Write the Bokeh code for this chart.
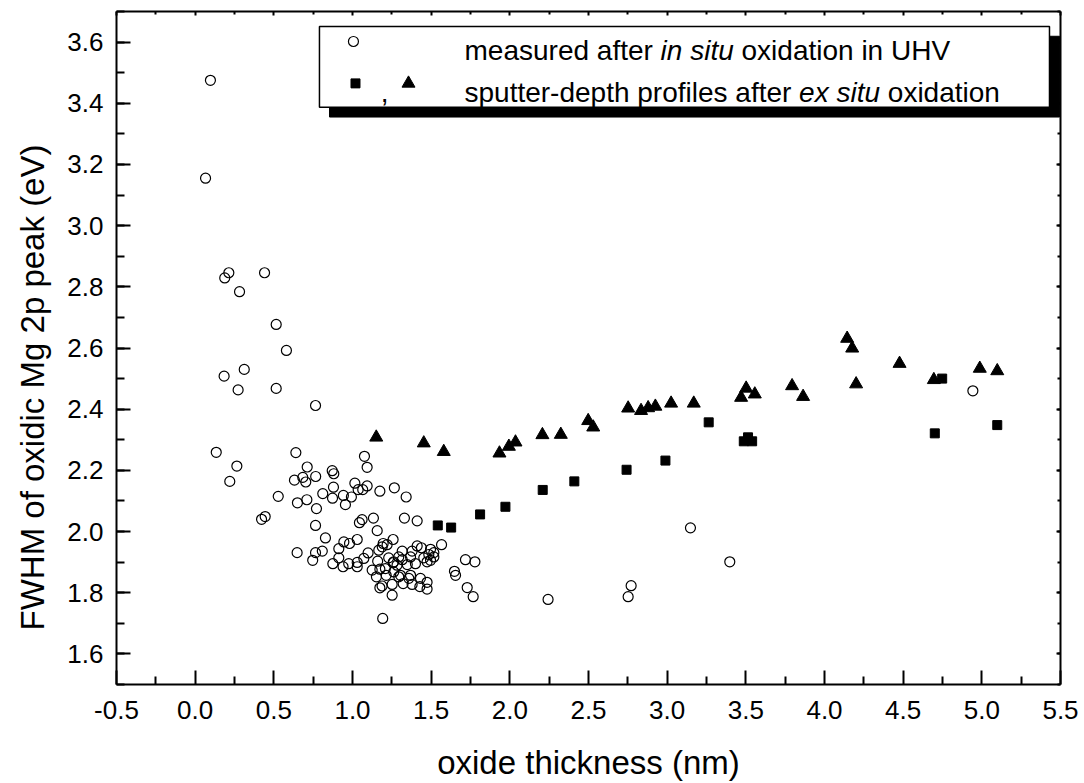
from bokeh.plotting import figure
from bokeh.models import (LinearAxis, FixedTicker, Range1d, ColumnDataSource, Title,
                          PrintfTickFormatter, CustomJSTickFormatter)
from bokeh.core.properties import value
from bokeh.embed import file_html
from bokeh.resources import INLINE

# ---------------- data ----------------
insitu_x = [0.097, 0.066, 0.214, 0.188, 0.441, 0.282, 0.515, 0.580, 0.312, 0.184,
            0.273, 0.515, 0.134, 0.640, 0.265, 0.220, 0.765, 1.076, 1.093, 0.712,
            0.631, 0.684, 0.703, 0.766, 0.871, 0.881, 1.015, 1.093, 1.036, 1.065,
            1.174, 1.266, 0.879, 0.811, 0.873, 0.942, 0.993, 0.955, 0.528, 0.650,
            0.710, 0.771, 0.422, 0.445, 0.765, 1.061, 1.044, 1.133, 1.157, 0.828,
            0.648, 0.765, 0.808, 0.747, 0.945, 0.981, 1.030, 0.913, 0.913, 0.875,
            0.940, 0.976, 1.030, 1.030, 1.072, 1.099, 1.167, 1.195, 1.220, 1.258,
            1.160, 1.125, 1.174, 1.230, 1.262, 1.152, 1.214, 1.252, 1.174, 1.188,
            1.252, 1.192, 1.341, 1.330, 1.411, 1.189, 1.316, 1.379, 1.411, 1.438,
            1.496, 1.517, 1.566, 1.485, 1.453, 1.369, 1.294, 1.258, 1.316, 1.348,
            1.400, 1.474, 1.496, 1.517, 1.283, 1.262, 1.305, 1.369, 1.432, 1.474,
            1.474, 1.428, 1.379, 1.322, 1.358, 1.294, 1.209, 1.718, 1.778, 1.648,
            1.655, 1.729, 1.767, 2.243, 2.771, 2.752, 3.148, 3.398, 4.943]
insitu_y = [3.475, 3.155, 2.846, 2.829, 2.846, 2.784, 2.677, 2.592, 2.530, 2.508,
            2.463, 2.468, 2.259, 2.258, 2.214, 2.164, 2.412, 2.246, 2.210, 2.211,
            2.168, 2.177, 2.162, 2.180, 2.199, 2.189, 2.158, 2.149, 2.137, 2.137,
            2.132, 2.143, 2.145, 2.124, 2.109, 2.118, 2.113, 2.088, 2.115, 2.094,
            2.104, 2.075, 2.040, 2.049, 2.020, 2.039, 2.029, 2.044, 2.003, 1.979,
            1.931, 1.931, 1.936, 1.906, 1.966, 1.961, 1.974, 1.944, 1.914, 1.895,
            1.885, 1.895, 1.885, 1.899, 1.912, 1.930, 1.939, 1.961, 1.957, 1.974,
            1.903, 1.874, 1.877, 1.914, 1.901, 1.852, 1.857, 1.827, 1.816, 1.822,
            1.792, 1.716, 2.113, 2.044, 2.035, 1.950, 1.936, 1.936, 1.953, 1.947,
            1.942, 1.931, 1.957, 1.925, 1.914, 1.917, 1.917, 1.898, 1.908, 1.892,
            1.895, 1.901, 1.906, 1.917, 1.890, 1.868, 1.857, 1.857, 1.847, 1.834,
            1.812, 1.820, 1.827, 1.830, 1.847, 1.852, 1.879, 1.908, 1.901, 1.870,
            1.857, 1.817, 1.787, 1.778, 1.823, 1.787, 2.012, 1.901, 2.460]

square_x = [1.542, 1.627, 1.811, 1.972, 2.209, 2.410, 2.742, 2.989, 3.264, 3.487,
            3.514, 3.540, 4.701, 4.748, 5.098]
square_y = [2.020, 2.013, 2.056, 2.081, 2.136, 2.164, 2.202, 2.232, 2.357, 2.295,
            2.308, 2.295, 2.321, 2.500, 2.348]

triangle_x = [1.151, 1.453, 1.580, 1.934, 1.994, 2.036, 2.207, 2.324, 2.498, 2.530,
              2.752, 2.834, 2.879, 2.925, 3.025, 3.169, 3.470, 3.502, 3.557, 3.794,
              3.864, 4.144, 4.176, 4.201, 4.477, 4.695, 4.987, 5.098]
triangle_y = [2.308, 2.289, 2.261, 2.256, 2.278, 2.292, 2.316, 2.317, 2.362, 2.341,
              2.403, 2.395, 2.404, 2.409, 2.419, 2.419, 2.438, 2.468, 2.449, 2.476,
              2.441, 2.631, 2.599, 2.482, 2.549, 2.496, 2.533, 2.525]

x_ticks = [-0.5, 0.0, 0.5, 1.0, 1.5, 2.0, 2.5, 3.0, 3.5, 4.0, 4.5, 5.0, 5.5]
y_ticks = [1.6, 1.8, 2.0, 2.2, 2.4, 2.6, 2.8, 3.0, 3.2, 3.4, 3.6]
x_title = "oxide thickness (nm)"
y_title = "FWHM of oxidic Mg 2p peak (eV)"
legend_row1 = ["measured after", "in situ", "oxidation in UHV"]
legend_row2 = ["sputter-depth profiles after", "ex situ", "oxidation"]

FONT = "Liberation Sans"
LEG_SIZE = "28px"

x_minor = [t + 0.25 for t in x_ticks[:-1]]
y_minor = [round(1.5 + 0.1 * i, 2) for i in range(23)]

p = figure(width=1084, height=783, x_range=Range1d(-0.5, 5.5), y_range=Range1d(1.5, 3.7),
           output_backend="svg", toolbar_location=None,
           min_border_left=116, min_border_right=24, min_border_top=11, min_border_bottom=97)
p.outline_line_color = None
p.grid.visible = False
p.background_fill_color = "white"
p.border_fill_color = "white"

def style_axis(ax, ticks, minor, labels=True, tick_in=14, minor_in=8):
    ax.ticker = FixedTicker(ticks=ticks, minor_ticks=minor)
    ax.axis_line_width = 2
    ax.axis_line_color = "black"
    ax.major_tick_in = tick_in
    ax.major_tick_out = 0
    ax.minor_tick_in = minor_in
    ax.minor_tick_out = 0
    ax.major_tick_line_width = 2
    ax.minor_tick_line_width = 2
    ax.major_tick_line_color = "black"
    ax.minor_tick_line_color = "black"
    if labels:
        ax.formatter = PrintfTickFormatter(format="%.1f")
        ax.major_label_text_font = FONT
        ax.major_label_text_font_size = "26px"
        ax.major_label_text_color = "black"
    else:
        ax.formatter = CustomJSTickFormatter(code="return ''")
        ax.major_label_standoff = 0

style_axis(p.xaxis[0], x_ticks, x_minor)
style_axis(p.yaxis[0], y_ticks, y_minor)
p.xaxis[0].major_label_standoff = 16
p.yaxis[0].major_label_standoff = 13
p.xaxis[0].axis_label = x_title
p.xaxis[0].axis_label_text_font = FONT
p.xaxis[0].axis_label_text_font_size = "33px"
p.xaxis[0].axis_label_text_font_style = "normal"
p.xaxis[0].axis_label_text_color = "black"
p.xaxis[0].axis_label_standoff = 22

top_ax = LinearAxis()
style_axis(top_ax, x_ticks, x_minor, labels=False, tick_in=4, minor_in=3)
p.add_layout(top_ax, "above")
right_ax = LinearAxis()
style_axis(right_ax, y_ticks, y_minor, labels=False, tick_in=4, minor_in=3)
p.add_layout(right_ax, "right")

# y-axis title: placed, as in the reference, a little below the frame centre
p.add_layout(Title(text=y_title, align="left", offset=54, vertical_align="top",
                   text_font=FONT, text_font_size="33px", text_font_style="normal",
                   text_color="black", standoff=24), "left")

# ---------------- data marks ----------------
src_c = ColumnDataSource(dict(x=insitu_x, y=insitu_y))
src_s = ColumnDataSource(dict(x=square_x, y=square_y))
src_t = ColumnDataSource(dict(x=triangle_x, y=triangle_y))
p.scatter("x", "y", source=src_c, marker="circle", size=10, fill_alpha=0,
          line_color="black", line_width=1.2)
p.scatter("x", "y", source=src_s, marker="square", size=9, fill_color="black",
          line_color="black", line_width=1)
p.scatter("x", "y", source=src_t, marker="triangle", size=13, fill_color="black",
          line_color="black", line_width=1)

# ---------------- legend (drawn manually, with shadow) ----------------
p.quad(left=[0.854], right=[5.494], top=[3.619], bottom=[3.355],
       fill_color="black", line_color="black")
p.quad(left=[0.790], right=[5.430], top=[3.651], bottom=[3.387],
       fill_color="white", line_color="black", line_width=1.5)
p.scatter([1.006], [3.602], marker="circle", size=10, fill_alpha=0,
          line_color="black", line_width=1.2)
p.scatter([1.019], [3.465], marker="square", size=9, fill_color="black", line_color="black")
p.scatter([1.356], [3.465], marker="triangle", size=13, fill_color="black", line_color="black")
p.text(x=[1.18], y=[3.436], text=[","], text_font=value(FONT), text_font_size=LEG_SIZE,
       text_baseline="alphabetic", text_align="left", text_color="black")

lx = 1.712
offs1 = [0, 196.1, 277.0]
offs2 = [0, 334.6, 423.3]
ys1 = 3.573
ys2 = 3.436
for row, offs, yy in ((legend_row1, offs1, ys1), (legend_row2, offs2, ys2)):
    p.text(x=[lx, lx], y=[yy, yy], text=[row[0], row[2]], x_offset=[offs[0], offs[2]],
           text_font=value(FONT), text_font_size=LEG_SIZE,
           text_baseline="alphabetic", text_align="left", text_color="black")
    p.text(x=[lx], y=[yy], text=[row[1]], x_offset=[offs[1]],
           text_font=value(FONT), text_font_size=LEG_SIZE, text_font_style="italic",
           text_baseline="alphabetic", text_align="left", text_color="black")

open("out.html", "w").write(file_html(p, INLINE))
